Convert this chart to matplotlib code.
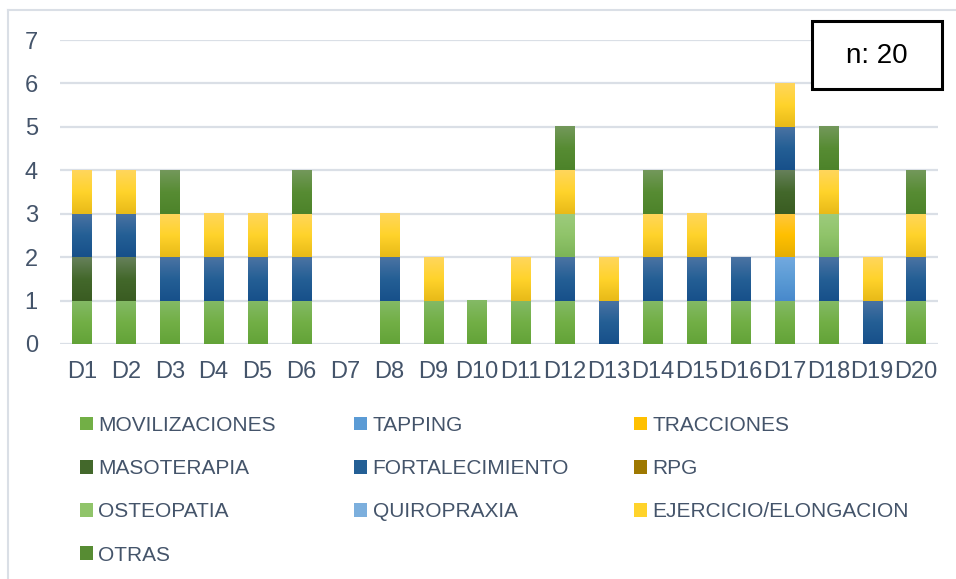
import numpy as np
import matplotlib
matplotlib.use("Agg")
import matplotlib.pyplot as plt
from matplotlib.colors import LinearSegmentedColormap
from matplotlib.patches import Rectangle
from matplotlib.lines import Line2D

plt.rcParams['font.family'] = ['Liberation Sans', 'DejaVu Sans']

# data
days = ['D%d' % i for i in range(1, 21)]
movilizaciones = [1, 1, 1, 1, 1, 1, 0, 1, 1, 1, 1, 1, 0, 1, 1, 1, 1, 1, 0, 1]
tapping = [0, 0, 0, 0, 0, 0, 0, 0, 0, 0, 0, 0, 0, 0, 0, 0, 1, 0, 0, 0]
tracciones = [0, 0, 0, 0, 0, 0, 0, 0, 0, 0, 0, 0, 0, 0, 0, 0, 1, 0, 0, 0]
masoterapia = [1, 1, 0, 0, 0, 0, 0, 0, 0, 0, 0, 0, 0, 0, 0, 0, 1, 0, 0, 0]
fortalecimiento = [1, 1, 1, 1, 1, 1, 0, 1, 0, 0, 0, 1, 1, 1, 1, 1, 1, 1, 1, 1]
rpg = [0] * 20
osteopatia = [0, 0, 0, 0, 0, 0, 0, 0, 0, 0, 0, 1, 0, 0, 0, 0, 0, 1, 0, 0]
quiropraxia = [0] * 20
ejercicio = [1, 1, 1, 1, 1, 1, 0, 1, 1, 0, 1, 1, 1, 1, 1, 0, 1, 1, 1, 1]
otras = [0, 0, 1, 0, 0, 1, 0, 0, 0, 0, 0, 1, 0, 1, 0, 0, 0, 1, 0, 1]

series_names = ['MOVILIZACIONES', 'TAPPING', 'TRACCIONES', 'MASOTERAPIA', 'FORTALECIMIENTO',
                'RPG', 'OSTEOPATIA', 'QUIROPRAXIA', 'EJERCICIO/ELONGACION', 'OTRAS']
series_vals = [movilizaciones, tapping, tracciones, masoterapia, fortalecimiento,
               rpg, osteopatia, quiropraxia, ejercicio, otras]

# (top, mid, bottom) shades, excel-like gradient
shades = [
    ('#84BA66', '#72AF46', '#63A338'),
    ('#72A9DF', '#5B9BD5', '#4889CC'),
    ('#FFC73F', '#FFC000', '#E6AE00'),
    ('#66805A', '#43682B', '#3A5C22'),
    ('#4B73A3', '#245F95', '#17508A'),
    ('#A88520', '#9E7800', '#8A6800'),
    ('#9DCB7D', '#90C46A', '#7CB458'),
    ('#8DBBE5', '#7CAFDD', '#6AA0D4'),
    ('#FFD65C', '#FFD32B', '#E8BA18'),
    ('#73985B', '#578C33', '#4D832A'),
]

text_col = '#44546A'
grid_col = '#DADFE6'

fig = plt.figure(figsize=(9.56, 5.79), dpi=100)
ax = fig.add_axes([0.0628, 0.4059, 0.9184, 0.525])

x = np.arange(len(days))
bottom = np.zeros(len(days))
containers = []
for name, vals, (c_top, c_mid, c_bot) in zip(series_names, series_vals, shades):
    vals = np.array(vals, dtype=float)
    bars = ax.bar(x, vals, 0.44, bottom=bottom, color=c_mid, label=name, zorder=2)
    cmap = LinearSegmentedColormap.from_list(name, [c_bot, c_mid, c_top])
    grad = np.linspace(0, 1, 64).reshape(-1, 1)
    for b in bars:
        if b.get_height() == 0:
            continue
        bx, by = b.get_xy()
        ax.imshow(grad, extent=[bx, bx + b.get_width(), by, by + b.get_height()],
                  origin='lower', cmap=cmap, aspect='auto', zorder=3, interpolation='bilinear')
    containers.append(bars)
    bottom += vals

ax.set_xlim(-0.5, len(days) - 0.5)
ax.set_ylim(0, 7)
ax.set_yticks(range(0, 8))
ax.set_xticks(x)
ax.set_xticklabels(days)
ax.yaxis.grid(True, color=grid_col, linewidth=1.6, zorder=0)
ax.set_axisbelow(True)
for s in ax.spines.values():
    s.set_visible(False)
ax.tick_params(axis='x', length=0, pad=12, labelsize=17, labelcolor=text_col)
ax.tick_params(axis='y', length=0, pad=16, labelsize=17, labelcolor=text_col)

# legend, three columns laid out row by row
col_x = [0.0837, 0.3706, 0.6633]
for k in range(3):
    leg = fig.legend([containers[i] for i in range(k, 10, 3)],
                     [series_names[i] for i in range(k, 10, 3)],
                     loc='upper left', bbox_to_anchor=(col_x[k], 0.2815),
                     frameon=False, borderpad=0, borderaxespad=0,
                     fontsize=15, handlelength=0.62, handleheight=0.62,
                     handletextpad=0.26, labelspacing=1.16)
    for t in leg.get_texts():
        t.set_color(text_col)

# n box
fig.add_artist(Rectangle((812 / 956, 1 - 89 / 579), 130 / 956, 68 / 579,
                         transform=fig.transFigure, facecolor='white',
                         edgecolor='black', linewidth=2.2, zorder=5))
fig.text(877 / 956, 1 - 56 / 579, 'n: 20', ha='center', va='center',
         fontsize=20, color='black', zorder=6)

# chart area border (left and top edges visible)
fig.add_artist(Line2D([8 / 956, 8 / 956], [0, 1 - 10 / 579], transform=fig.transFigure,
                      color=grid_col, linewidth=1.5))
fig.add_artist(Line2D([8 / 956, 1], [1 - 10 / 579, 1 - 10 / 579], transform=fig.transFigure,
                      color=grid_col, linewidth=1.5))

fig.savefig('out.png', dpi=100)
